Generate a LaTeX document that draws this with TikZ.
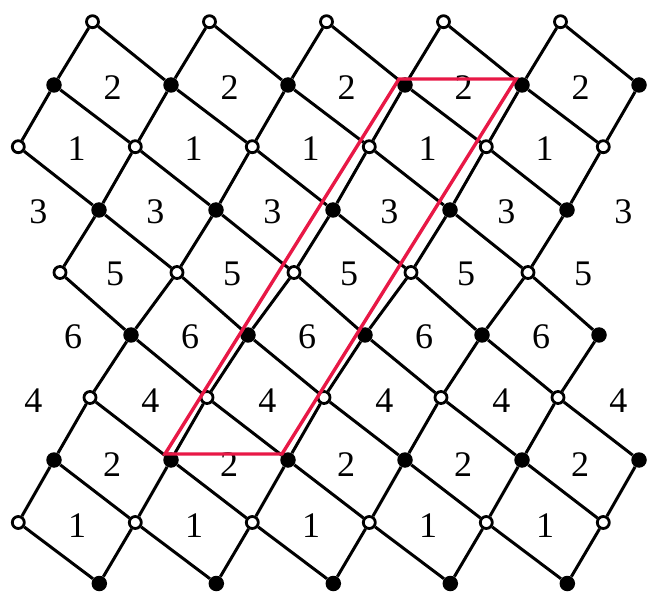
\documentclass[tikz,border=0pt]{standalone}
\usepackage{fontspec}
\setmainfont{Liberation Serif}
\definecolor{redl}{RGB}{232,24,70}
\begin{document}
\begin{tikzpicture}[x=1pt,y=1pt,
  wv/.style={circle,draw=black,fill=white,line width=2.8pt,inner sep=0pt,minimum size=12pt},
  bv/.style={circle,fill=black,inner sep=0pt,minimum size=15.5pt},
  edge/.style={line width=3pt,black},
  lab/.style={font=\fontsize{36}{36}\selectfont,inner sep=0pt},
  redline/.style={draw=redl,line width=3.4pt,line join=miter}]
\useasboundingbox (0,0) rectangle (649,-599);
% white vertex rows
\foreach \ri/\y/\off/\ka/\kb in {0/21.7/92.5/0/4, 2/146.7/18.3/0/5, 4/272.5/60/0/4, 6/397.5/90/0/4, 8/522.5/18.3/0/5}{
  \foreach \k in {\ka,...,\kb}{
    \node[wv] (v\ri-\k) at ({\off+117*\k},{-\y}) {};
  }
}
% black vertex rows
\foreach \ri/\y/\off/\ka/\kb in {1/85/54/0/5, 3/210/99/0/4, 5/335/14/1/5, 7/460/54/0/5, 9/583.5/99.3/0/4}{
  \foreach \k in {\ka,...,\kb}{
    \node[bv] (v\ri-\k) at ({\off+117*\k},{-\y}) {};
  }
}
% edges between consecutive rows
\foreach \ri/\ro/\sh/\pa/\pb/\qa/\qb in {0/1/0/0/4/0/4, 1/2/0/0/5/0/4, 2/3/-1/1/5/0/4, 3/4/0/0/4/0/3, 4/5/0/1/4/0/4, 5/6/-1/1/5/1/4, 6/7/0/0/4/0/4, 7/8/0/0/5/0/4, 8/9/-1/1/5/0/4}{
  \foreach \k in {\pa,...,\pb}{
    \pgfmathtruncatemacro\jj{\k+\sh}
    \draw[edge] (v\ri-\k) -- (v\ro-\jj);
  }
  \foreach \k in {\qa,...,\qb}{
    \pgfmathtruncatemacro\jj{\k+\sh+1}
    \draw[edge] (v\ri-\k) -- (v\ro-\jj);
  }
}
% face labels
\foreach \ri/\y/\xo/\jm/\t in {1/88/112.5/4/2, 2/149/76.7/4/1, 3/211.5/38.3/5/3, 4/274/115/4/5, 5/336.5/73/4/6, 6/401/33.3/5/4, 7/465/112/4/2, 8/526/77/4/1}{
  \foreach \j in {0,...,\jm}{
    \node[lab] (f\ri-\j) at ({\xo+117*\j},{-\y}) {\t};
  }
}
% fundamental domain
\draw[redline] ([shift={(-6,6)}]v7-1.center) -- ([shift={(-6,6)}]v7-2.center)
  -- ([shift={(-6,6)}]v1-4.center) -- ([shift={(-6,6)}]v1-3.center) -- cycle;
\end{tikzpicture}
\end{document}
